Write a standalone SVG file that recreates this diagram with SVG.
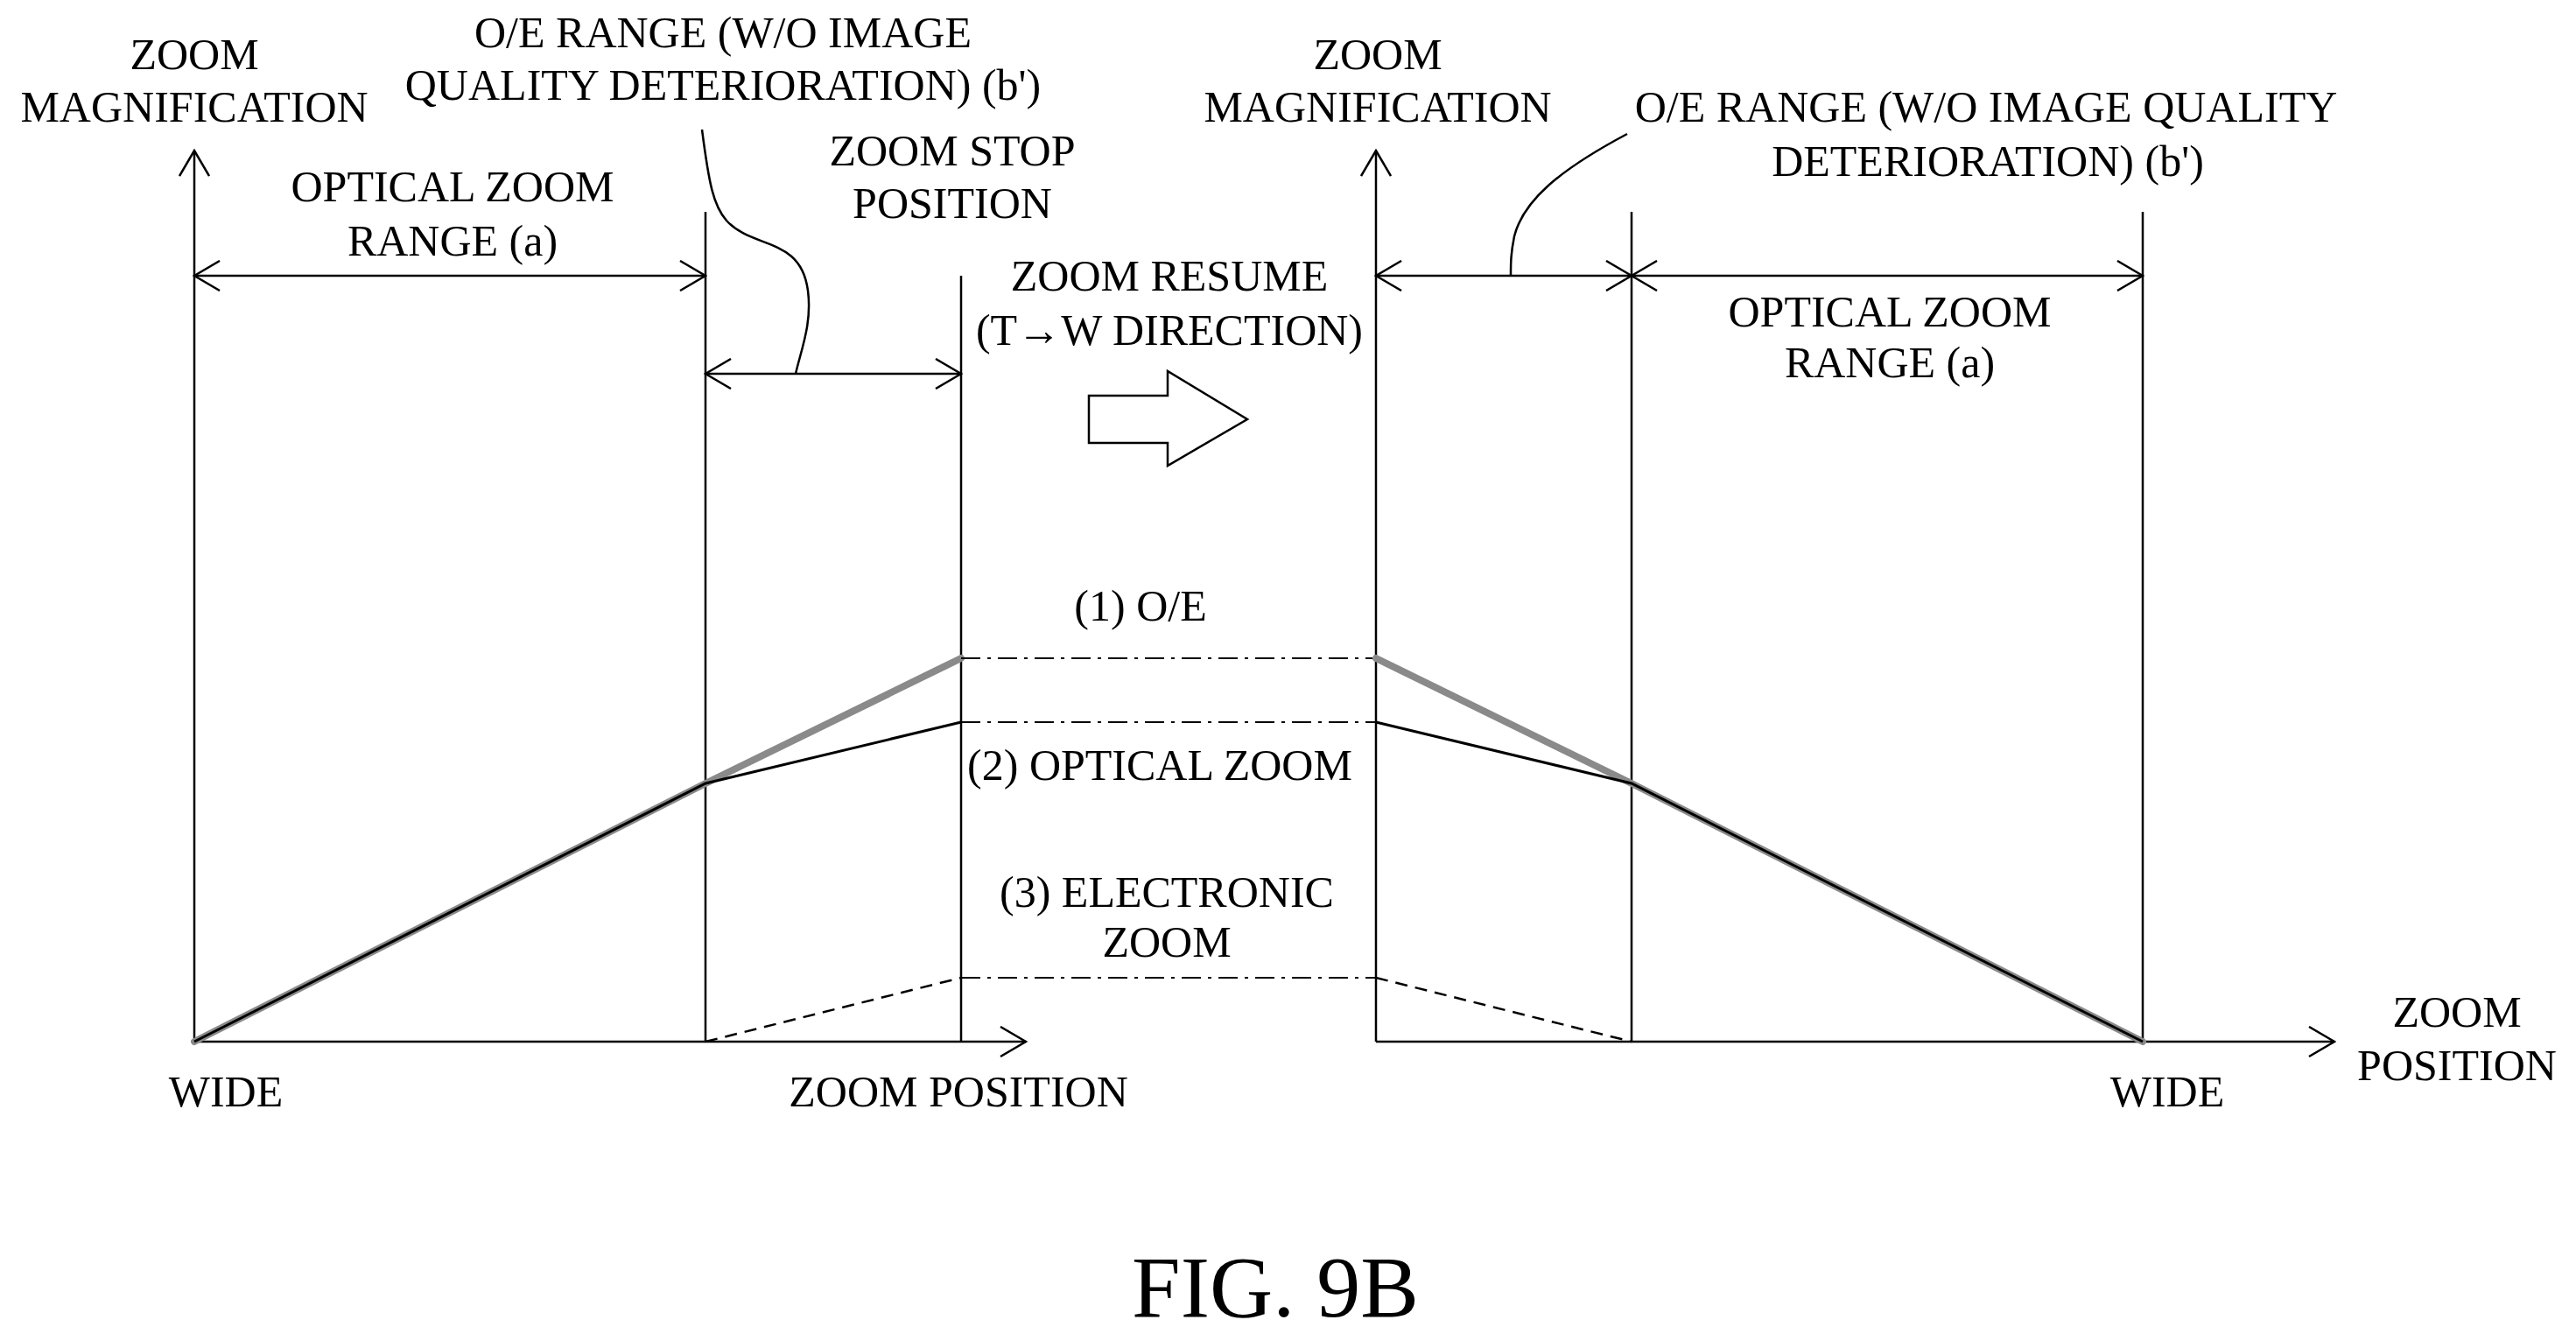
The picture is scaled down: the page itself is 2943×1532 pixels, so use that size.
<svg xmlns="http://www.w3.org/2000/svg" width="2943" height="1532" viewBox="0 0 2943 1532">
<style>
text{font-family:"Liberation Serif",serif;font-size:50px;fill:#000;text-anchor:middle}
.l{stroke:#000;stroke-width:2.5;fill:none}
.dd{stroke:#000;stroke-width:2;fill:none;stroke-dasharray:22 8 4 8}
</style>
<defs>
<marker id="ah" viewBox="0 0 20 20" refX="19" refY="10" markerWidth="20" markerHeight="20" markerUnits="userSpaceOnUse" orient="auto-start-reverse"><path d="M1 2 L19 10 L1 18" fill="none" stroke="#000" stroke-width="2.5"/></marker>
<marker id="dh" viewBox="0 0 32 36" refX="30" refY="18" markerWidth="32" markerHeight="36" markerUnits="userSpaceOnUse" orient="auto-start-reverse"><path d="M1 1 L30 18 L1 35" fill="none" stroke="#000" stroke-width="2.5"/></marker>
</defs>
<g id="left-chart">
<line class="l" x1="222" y1="1190" x2="222" y2="172" marker-end="url(#dh)"/>
<line class="l" x1="222" y1="1190" x2="1172" y2="1190" marker-end="url(#dh)"/>
<line class="l" x1="806" y1="242" x2="806" y2="1190"/>
<line class="l" x1="1098" y1="315" x2="1098" y2="1190"/>
<line class="l" x1="222" y1="315" x2="806" y2="315" marker-start="url(#dh)" marker-end="url(#dh)"/>
<line class="l" x1="806" y1="427" x2="1098" y2="427" marker-start="url(#dh)" marker-end="url(#dh)"/>
<path class="l" d="M802 148 C810 210 815 235 830 252 C860 285 915 270 923 332 C928 370 915 400 909 427"/>
<polyline points="222,1190 806,895 1098,752" fill="none" stroke="#8a8a8a" stroke-width="8" stroke-linecap="round"/>
<polyline points="222,1190 806,895 1098,825" fill="none" stroke="#000" stroke-width="3"/>
<line x1="806" y1="1190" x2="1098" y2="1117" stroke="#000" stroke-width="2.5" stroke-dasharray="14 9"/>
<text x="222" y="79">ZOOM</text>
<text x="222" y="139">MAGNIFICATION</text>
<text x="826" y="54">O/E RANGE (W/O IMAGE</text>
<text x="826" y="114">QUALITY DETERIORATION) (b')</text>
<text x="1088" y="189">ZOOM STOP</text>
<text x="1088" y="249">POSITION</text>
<text x="517" y="230">OPTICAL ZOOM</text>
<text x="517" y="292">RANGE (a)</text>
<text x="258" y="1264">WIDE</text>
<text x="1095" y="1264">ZOOM POSITION</text>
</g>
<g id="middle">
<text x="1336" y="332">ZOOM RESUME</text>
<text x="1336" y="394">(T→W DIRECTION)</text>
<polygon points="1244,452 1334,452 1334,424 1425,479 1334,532 1334,506 1244,506" fill="#fff" stroke="#000" stroke-width="2.5"/>
<text x="1303" y="709">(1) O/E</text>
<text x="1325" y="891">(2) OPTICAL ZOOM</text>
<text x="1333" y="1036">(3) ELECTRONIC</text>
<text x="1333" y="1093">ZOOM</text>
</g>
<g id="connectors">
<line class="dd" x1="1098" y1="752" x2="1572" y2="752"/>
<line class="dd" x1="1098" y1="825" x2="1572" y2="825"/>
<line class="dd" x1="1098" y1="1117" x2="1572" y2="1117"/>
</g>
<g id="right-chart">
<line class="l" x1="1572" y1="1190" x2="1572" y2="172" marker-end="url(#dh)"/>
<line class="l" x1="1572" y1="1190" x2="2667" y2="1190" marker-end="url(#dh)"/>
<line class="l" x1="1864" y1="242" x2="1864" y2="1190"/>
<line class="l" x1="2448" y1="242" x2="2448" y2="1190"/>
<line class="l" x1="1572" y1="315" x2="1864" y2="315" marker-start="url(#dh)" marker-end="url(#dh)"/>
<line class="l" x1="1864" y1="315" x2="2448" y2="315" marker-start="url(#dh)" marker-end="url(#dh)"/>
<path class="l" d="M1859 153 C1780 195 1740 230 1730 270 C1726 290 1726 300 1726 315"/>
<polyline points="1572,752 1864,895 2448,1190" fill="none" stroke="#8a8a8a" stroke-width="8" stroke-linecap="round"/>
<polyline points="1572,825 1864,895 2448,1190" fill="none" stroke="#000" stroke-width="3"/>
<line x1="1572" y1="1117" x2="1864" y2="1190" stroke="#000" stroke-width="2.5" stroke-dasharray="14 9"/>
<text x="1574" y="79">ZOOM</text>
<text x="1574" y="139">MAGNIFICATION</text>
<text x="2269" y="139">O/E RANGE (W/O IMAGE QUALITY</text>
<text x="2271" y="201">DETERIORATION) (b')</text>
<text x="2159" y="373">OPTICAL ZOOM</text>
<text x="2159" y="431">RANGE (a)</text>
<text x="2807" y="1173">ZOOM</text>
<text x="2807" y="1234">POSITION</text>
<text x="2476" y="1264">WIDE</text>
</g>
<text x="1457" y="1504" style="font-size:100px">FIG. 9B</text>
</svg>
